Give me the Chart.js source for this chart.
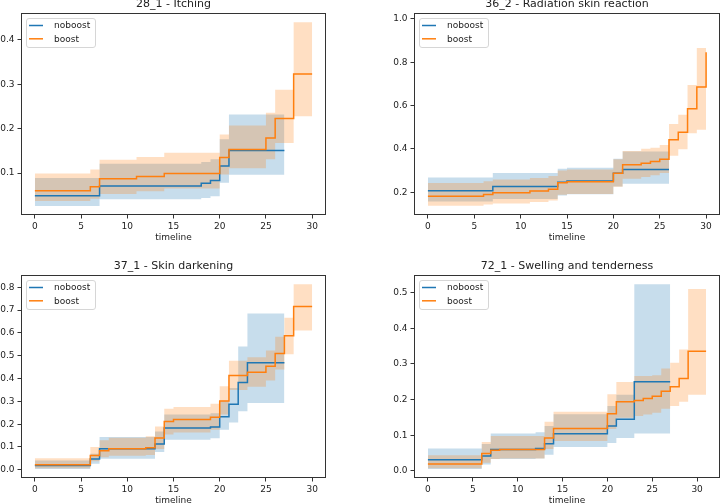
<!DOCTYPE html>
<html>
<head>
<meta charset="utf-8">
<script src="https://cdn.jsdelivr.net/npm/chart.js@4.4.0/dist/chart.umd.min.js"></script>
<style>
html,body{margin:0;padding:0;background:#fff;overflow:hidden;width:721px;height:504px;position:relative;}
canvas{position:absolute;}
</style>
</head>
<body>
<canvas id="c1" width="348" height="250" style="left:-19px;top:-3px"></canvas>
<canvas id="c2" width="349" height="250" style="left:374px;top:-3px"></canvas>
<canvas id="c3" width="348" height="251" style="left:-19px;top:259px"></canvas>
<canvas id="c4" width="349" height="251" style="left:374px;top:259px"></canvas>
<script>
// ---- 28_1 - Itching ----
let t_itch_nb  = [0, 7, 18, 19, 20, 21, 27];
let e_itch_nb  = [0.049, 0.071, 0.077, 0.083, 0.116, 0.151, 0.151];
let lo_itch_nb = [0.026, 0.041, 0.044, 0.048, 0.078, 0.096, 0.096];
let hi_itch_nb = [0.089, 0.121, 0.125, 0.131, 0.176, 0.232, 0.232];
let t_itch_b  = [0, 6, 7, 11, 14, 20, 21, 25, 26, 28, 30];
let e_itch_b  = [0.060, 0.069, 0.087, 0.092, 0.099, 0.135, 0.153, 0.179, 0.223, 0.323, 0.323];
let lo_itch_b = [0.037, 0.042, 0.053, 0.059, 0.065, 0.097, 0.111, 0.131, 0.168, 0.228, 0.228];
let hi_itch_b = [0.099, 0.108, 0.130, 0.136, 0.146, 0.187, 0.207, 0.236, 0.288, 0.440, 0.440];

// ---- 36_2 - Radiation skin reaction ----
let t_rad_nb  = [0, 7, 14, 15, 20, 21, 26];
let e_rad_nb  = [0.206, 0.226, 0.246, 0.252, 0.287, 0.305, 0.305];
let lo_rad_nb = [0.157, 0.168, 0.185, 0.190, 0.226, 0.239, 0.239];
let hi_rad_nb = [0.268, 0.288, 0.308, 0.313, 0.354, 0.388, 0.388];
let t_rad_b  = [0, 6, 7, 11, 13, 14, 15, 20, 21, 23, 24, 25, 26, 27, 28, 29, 30];
let e_rad_b  = [0.181, 0.189, 0.197, 0.205, 0.214, 0.243, 0.248, 0.287, 0.326, 0.334, 0.342, 0.352, 0.442, 0.477, 0.585, 0.685, 0.846];
let lo_rad_b = [0.137, 0.143, 0.148, 0.155, 0.162, 0.188, 0.192, 0.225, 0.262, 0.270, 0.278, 0.288, 0.368, 0.398, 0.472, 0.488, 0.488];
let hi_rad_b = [0.242, 0.250, 0.258, 0.265, 0.275, 0.300, 0.305, 0.352, 0.390, 0.400, 0.405, 0.418, 0.515, 0.557, 0.695, 0.865, 0.985];

// ---- 37_1 - Skin darkening ----
let t_dark_nb  = [0, 6, 7, 13, 14, 19, 20, 21, 22, 23, 27];
let e_dark_nb  = [0.019, 0.047, 0.092, 0.113, 0.183, 0.188, 0.232, 0.287, 0.383, 0.469, 0.469];
let lo_dark_nb = [0.004, 0.026, 0.048, 0.078, 0.132, 0.138, 0.176, 0.207, 0.257, 0.293, 0.293];
let hi_dark_nb = [0.041, 0.070, 0.144, 0.168, 0.242, 0.248, 0.300, 0.359, 0.540, 0.685, 0.685];
let t_dark_b  = [0, 6, 7, 8, 12, 13, 14, 15, 19, 20, 21, 23, 25, 26, 27, 28, 30];
let e_dark_b  = [0.022, 0.063, 0.083, 0.092, 0.097, 0.139, 0.212, 0.220, 0.230, 0.302, 0.413, 0.428, 0.454, 0.510, 0.588, 0.716, 0.716];
let lo_dark_b = [0.007, 0.037, 0.055, 0.062, 0.065, 0.091, 0.155, 0.163, 0.176, 0.242, 0.350, 0.364, 0.392, 0.440, 0.507, 0.611, 0.611];
let hi_dark_b = [0.051, 0.100, 0.130, 0.140, 0.147, 0.190, 0.268, 0.275, 0.289, 0.366, 0.478, 0.493, 0.523, 0.583, 0.667, 0.813, 0.813];

// ---- 72_1 - Swelling and tenderness ----
let t_swell_nb  = [0, 6, 7, 12, 13, 14, 20, 21, 23, 27];
let e_swell_nb  = [0.031, 0.042, 0.060, 0.063, 0.076, 0.104, 0.126, 0.145, 0.250, 0.250];
let lo_swell_nb = [0.005, 0.018, 0.033, 0.035, 0.045, 0.067, 0.078, 0.092, 0.105, 0.105];
let hi_swell_nb = [0.063, 0.075, 0.105, 0.108, 0.126, 0.159, 0.182, 0.213, 0.523, 0.523];
let t_swell_b  = [0, 6, 7, 8, 13, 14, 20, 21, 23, 24, 25, 26, 27, 28, 29, 31];
let e_swell_b  = [0.019, 0.049, 0.058, 0.060, 0.092, 0.119, 0.160, 0.194, 0.197, 0.203, 0.209, 0.223, 0.236, 0.259, 0.335, 0.335];
let lo_swell_b = [0.007, 0.023, 0.033, 0.035, 0.061, 0.084, 0.117, 0.149, 0.154, 0.158, 0.163, 0.174, 0.182, 0.194, 0.213, 0.213];
let hi_swell_b = [0.044, 0.081, 0.098, 0.098, 0.138, 0.166, 0.215, 0.249, 0.266, 0.266, 0.268, 0.287, 0.303, 0.340, 0.510, 0.510];

let xTicks = [0, 5, 10, 15, 20, 25, 30];

const BLUE = "#1f77b4", ORANGE = "#ff7f0e";
const BLUE_BAND = "rgba(31,119,180,0.25)", ORANGE_BAND = "rgba(255,127,14,0.25)";
const FONT = '"DejaVu Sans", sans-serif';

function pts(t, v){
  return t.map(function(x, i){ return {x: x, y: v[i]}; });
}

// line order: smaller = drawn later (on top). band order likewise.
function group(label, t, e, lo, hi, color, band, lineOrder, bandOrder){
  return [
    {label: label, data: pts(t, e), borderColor: color, borderWidth: 1.5, stepped: 'before', pointRadius: 0, fill: false, order: lineOrder},
    {data: pts(t, hi), borderColor: 'transparent', borderWidth: 0, backgroundColor: band, stepped: 'before', pointRadius: 0, fill: '+1', order: bandOrder},
    {data: pts(t, lo), borderColor: 'transparent', borderWidth: 0, stepped: 'before', pointRadius: 0, fill: false, order: bandOrder}
  ];
}

// frame, title and legend the way matplotlib draws them
const panel = {
  id: 'panel',
  afterDraw(chart, args, opts){
    const ctx = chart.ctx, a = chart.chartArea;
    ctx.save();
    ctx.strokeStyle = '#333';
    ctx.lineWidth = 1;
    ctx.strokeRect(Math.round(a.left) + 0.5, Math.round(a.top) + 0.5, Math.round(a.right - a.left) - 1, Math.round(a.bottom - a.top) - 1);

    ctx.fillStyle = '#222';
    ctx.font = '11px ' + FONT;
    ctx.textAlign = 'center';
    ctx.textBaseline = 'alphabetic';
    ctx.fillText(opts.title, (a.left + a.right) / 2, a.top - 6);

    const items = chart.data.datasets.filter(function(d){ return d.label; });
    const bx = Math.round(a.left) + 5, by = Math.round(a.top) + 5;
    ctx.beginPath();
    ctx.roundRect(bx + 0.5, by + 0.5, 69, 29, 2.5);
    ctx.fillStyle = 'rgba(255,255,255,0.8)';
    ctx.fill();
    ctx.strokeStyle = '#d6d6d6';
    ctx.stroke();
    ctx.font = '9px ' + FONT;
    ctx.textAlign = 'left';
    ctx.textBaseline = 'middle';
    items.forEach(function(d, i){
      const y = by + 7.5 + i * 13.3;
      ctx.strokeStyle = d.borderColor;
      ctx.lineWidth = 1.5;
      ctx.beginPath();
      ctx.moveTo(bx + 3, y);
      ctx.lineTo(bx + 17, y);
      ctx.stroke();
      ctx.fillStyle = '#222';
      ctx.fillText(d.label, bx + 28, y + 0.5);
    });
    ctx.restore();
  }
};

function makePanel(id, title, nb, bo, xmin, xmax, ymin, ymax, yTicks){
  let datasets = group('noboost', nb[0], nb[1], nb[2], nb[3], BLUE, BLUE_BAND, 2, 11)
    .concat(group('boost', bo[0], bo[1], bo[2], bo[3], ORANGE, ORANGE_BAND, 1, 10));
  return new Chart(id, {
    type: 'line',
    data: {datasets: datasets},
    options: {
      responsive: false,
      animation: false,
      devicePixelRatio: 1,
      layout: {padding: {top: 16, right: 3, left: 0, bottom: 0}},
      plugins: {
        legend: {display: false},
        tooltip: {enabled: false},
        filler: {drawTime: 'beforeDatasetsDraw'},
        panel: {title: title}
      },
      scales: {
        x: {
          type: 'linear', min: xmin, max: xmax,
          afterBuildTicks: function(s){ s.ticks = xTicks.map(function(v){ return {value: v}; }); },
          afterFit: function(s){ s.height = 32; },
          grid: {display: true, drawOnChartArea: false, drawTicks: true, tickLength: 3.5, tickColor: '#333'},
          border: {display: false},
          ticks: {color: '#222', font: {family: FONT, size: 9}, padding: 3, maxRotation: 0,
                  callback: function(v){ return String(v); }},
          title: {display: true, text: 'timeline', color: '#222', font: {family: FONT, size: 9, lineHeight: 1.2}, padding: {top: 0, bottom: 4}}
        },
        y: {
          type: 'linear', min: ymin, max: ymax,
          afterBuildTicks: function(s){ s.ticks = yTicks.map(function(v){ return {value: v}; }); },
          afterFit: function(s){ s.width = 40; },
          grid: {display: true, drawOnChartArea: false, drawTicks: true, tickLength: 3.5, tickColor: '#333'},
          border: {display: false},
          ticks: {color: '#222', font: {family: FONT, size: 9}, padding: 3,
                  callback: function(v){ return Number(v).toFixed(1); }}
        }
      }
    },
    plugins: [panel]
  });
}

makePanel('c1', '28_1 - Itching',
  [t_itch_nb, e_itch_nb, lo_itch_nb, hi_itch_nb],
  [t_itch_b, e_itch_b, lo_itch_b, hi_itch_b],
  -1.5, 31.5, 0.0055, 0.4607, [0.1, 0.2, 0.3, 0.4]);

makePanel('c2', '36_2 - Radiation skin reaction',
  [t_rad_nb, e_rad_nb, lo_rad_nb, hi_rad_nb],
  [t_rad_b, e_rad_b, lo_rad_b, hi_rad_b],
  -1.5, 31.5, 0.0946, 1.027, [0.2, 0.4, 0.6, 0.8, 1.0]);

makePanel('c3', '37_1 - Skin darkening',
  [t_dark_nb, e_dark_nb, lo_dark_nb, hi_dark_nb],
  [t_dark_b, e_dark_b, lo_dark_b, hi_dark_b],
  -1.5, 31.5, -0.036, 0.854, [0.0, 0.1, 0.2, 0.3, 0.4, 0.5, 0.6, 0.7, 0.8]);

makePanel('c4', '72_1 - Swelling and tenderness',
  [t_swell_nb, e_swell_nb, lo_swell_nb, hi_swell_nb],
  [t_swell_b, e_swell_b, lo_swell_b, hi_swell_b],
  -1.55, 32.55, -0.02, 0.549, [0.0, 0.1, 0.2, 0.3, 0.4, 0.5]);
</script>
</body>
</html>
